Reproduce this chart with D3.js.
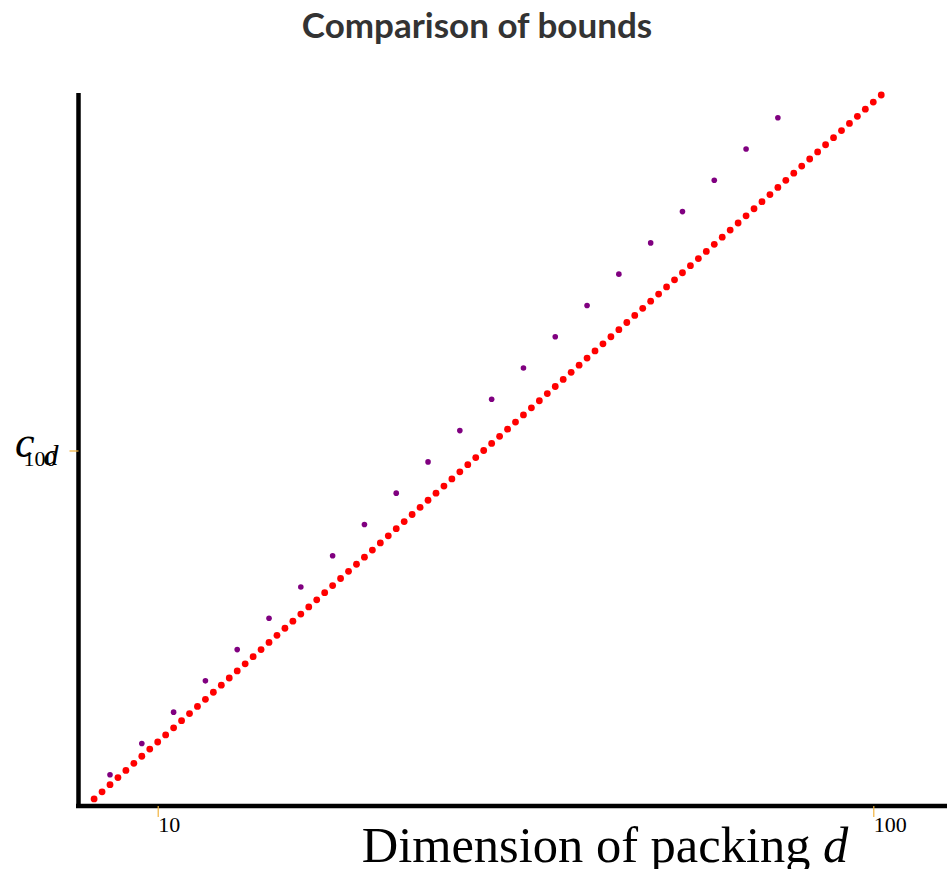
<!DOCTYPE html>
<html>
<head>
<meta charset="utf-8">
<script src="https://cdn.jsdelivr.net/npm/d3@7"></script>
<style>
  body { margin: 0; background: #fff; overflow: hidden; }
  svg { display: block; }
</style>
</head>
<body>
<svg width="947" height="869"></svg>
<script>
// dimensions d for the two bounds
const boundDims = [2, 3, 4, 5, 6, 7, 8, 9, 10, 11, 12, 13, 14, 15, 16, 17, 18, 19, 20, 21,
  22, 23, 24, 25, 26, 27, 28, 29, 30, 31, 32, 33, 34, 35, 36, 37, 38, 39, 40, 41,
  42, 43, 44, 45, 46, 47, 48, 49, 50, 51, 52, 53, 54, 55, 56, 57, 58, 59, 60, 61,
  62, 63, 64, 65, 66, 67, 68, 69, 70, 71, 72, 73, 74, 75, 76, 77, 78, 79, 80, 81,
  82, 83, 84, 85, 86, 87, 88, 89, 90, 91, 92, 93, 94, 95, 96, 97, 98, 99, 100, 101]
const boundValues = [2, 4, 6, 8, 10, 12, 14, 16, 18, 20, 22, 24, 26, 28, 30, 32, 34, 36, 38, 40,
  42, 44, 46, 48, 50, 52, 54, 56, 58, 60, 62, 64, 66, 68, 70, 72, 74, 76, 78, 80,
  82, 84, 86, 88, 90, 92, 94, 96, 98, 100, 102, 104, 106, 108, 110, 112, 114, 116, 118, 120,
  122, 124, 126, 128, 130, 132, 134, 136, 138, 140, 142, 144, 146, 148, 150, 152, 154, 156, 158, 160,
  162, 164, 166, 168, 170, 172, 174, 176, 178, 180, 182, 184, 186, 188, 190, 192, 194, 196, 198, 200]
const packDims = [4, 8, 12, 16, 20, 24, 28, 32, 36, 40, 44, 48, 52, 56, 60, 64, 68, 72, 76, 80, 84, 88]
const packValues = [8.8, 17.6, 26.4, 35.2, 44, 52.8, 61.6, 70.4, 79.2, 88, 96.8,
  105.6, 114.4, 123.2, 132, 140.8, 149.6, 158.4, 167.2, 176, 184.8, 193.6]
const xTicks = [10, 100]
const yTicks = [100]

const svg = d3.select('svg')

// title
svg.append('text')
  .attr('x', 477)
  .attr('y', 38)
  .attr('text-anchor', 'middle')
  .style('font-family', 'Lato, sans-serif')
  .style('font-weight', 'bold')
  .style('font-size', '35px')
  .style('fill', '#333')
  .text('Comparison of bounds')

const x = d3.scaleLinear().domain([0, 110]).range([78.2, 952.8])
const y = d3.scaleLinear().domain([0, 200]).range([806, 95])

// red bound, one dot per dimension
svg.append('g')
  .selectAll('circle')
  .data(boundDims)
  .enter()
  .append('circle')
  .attr('cx', (d) => x(d))
  .attr('cy', (d, i) => y(boundValues[i]))
  .attr('r', 3.4)
  .style('fill', '#ff0000')

// purple points
svg.append('g')
  .selectAll('circle')
  .data(packDims)
  .enter()
  .append('circle')
  .attr('cx', (d) => x(d))
  .attr('cy', (d, i) => y(packValues[i]))
  .attr('r', 2.8)
  .style('fill', '#800080')

// axes
const xAxis = svg.append('g')
  .attr('transform', 'translate(0,806)')
  .call(d3.axisBottom(x).tickValues(xTicks).tickSize(11).tickSizeOuter(0).tickFormat(d3.format('d')))
const yAxis = svg.append('g')
  .attr('transform', 'translate(78.5,0)')
  .call(d3.axisLeft(y).tickValues(yTicks).tickSize(9).tickSizeOuter(0).tickFormat(d3.format('d')))

xAxis.select('.domain').attr('d', 'M76,0H947').style('stroke', '#000').style('stroke-width', 4.5)
yAxis.select('.domain').attr('d', 'M0,93V808').style('stroke', '#000').style('stroke-width', 4.5)
svg.selectAll('.tick line').style('stroke', '#f2b33d').style('stroke-width', 1.2)
svg.selectAll('.tick text')
  .style('font-family', '"Liberation Serif", serif')
  .style('font-size', '22px')
  .style('fill', '#000')
xAxis.selectAll('.tick text').attr('text-anchor', 'start').attr('x', 0).attr('y', 10).attr('dy', '0.71em')
yAxis.selectAll('.tick text').attr('text-anchor', 'end').attr('x', -22).attr('dy', '0.7em')

// axis titles
const xl = svg.append('text')
  .attr('x', 605)
  .attr('y', 862)
  .attr('text-anchor', 'middle')
  .style('font-family', '"Liberation Serif", serif')
  .style('font-size', '50.5px')
  .style('fill', '#000')
xl.append('tspan').text('Dimension of packing ')
xl.append('tspan').style('font-style', 'italic').text('d')

const yl = svg.append('text')
  .attr('x', 15)
  .attr('y', 457)
  .style('font-family', '"Liberation Serif", serif')
  .style('fill', '#000')
yl.append('tspan').style('font-style', 'italic').style('font-size', '44px').text('c')
yl.append('tspan').style('font-style', 'italic').style('font-size', '30px').attr('dx', 9).attr('dy', 8).text('d')
</script>
</body>
</html>
